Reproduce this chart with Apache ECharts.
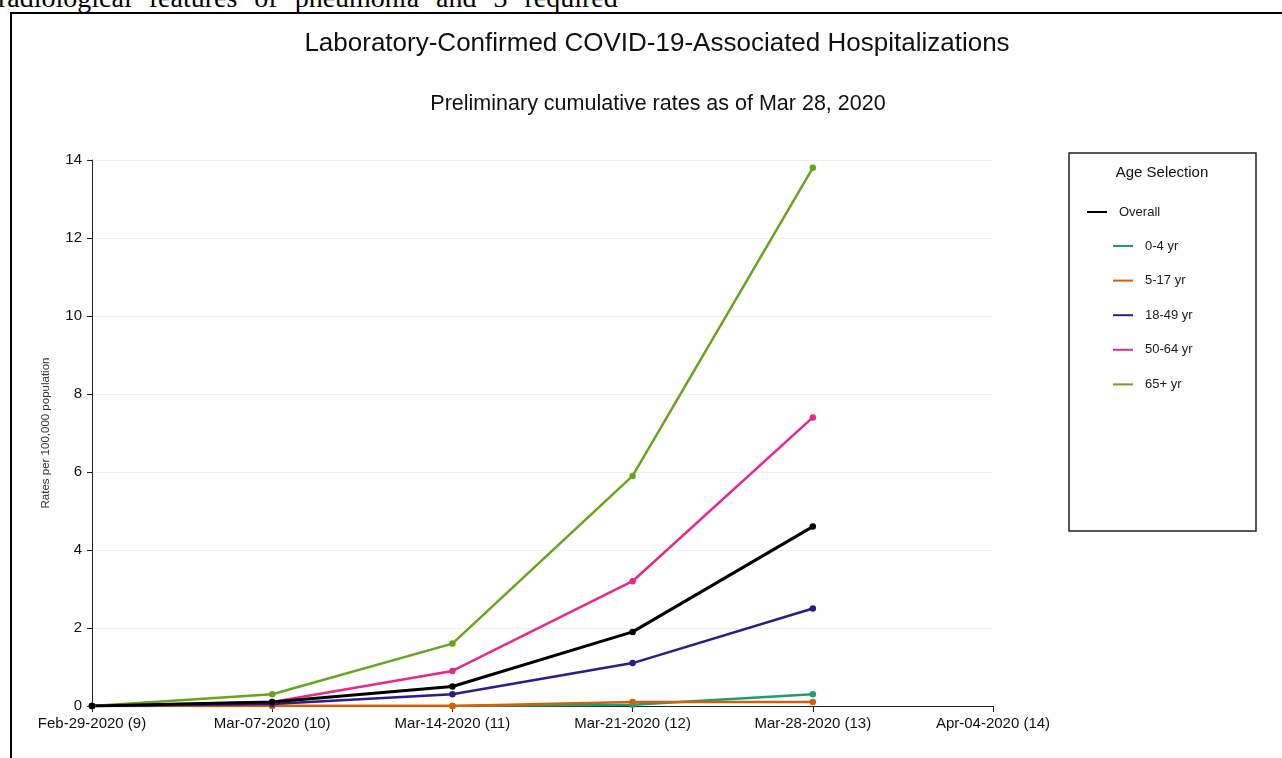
<!DOCTYPE html>
<html>
<head>
<meta charset="utf-8">
<script src="https://cdn.jsdelivr.net/npm/echarts@6/dist/echarts.min.js"></script>
<style>
  html, body { margin: 0; padding: 0; background: #fff; overflow: hidden; }
  #top { position: absolute; left: -2px; top: -16px; font-family: "Liberation Serif", "DejaVu Serif", serif; font-size: 28px; line-height: 28px; word-spacing: 10px; color: #000; white-space: nowrap; }
  #frame { position: absolute; left: 10px; top: 12px; width: 1300px; height: 800px; border: 2px solid #000; box-sizing: border-box; }
  #chart { position: absolute; left: 0; top: 0; width: 1282px; height: 758px; }
</style>
</head>
<body>
<div id="top">radiological features of pneumonia and 3 required</div>
<div id="frame"></div>
<div id="chart"></div>
<script>
const categories = ['Feb-29-2020 (9)', 'Mar-07-2020 (10)', 'Mar-14-2020 (11)', 'Mar-21-2020 (12)', 'Mar-28-2020 (13)', 'Apr-04-2020 (14)'];
const overall  = [0, 0.1, 0.5, 1.9, 4.6];
const age0to4  = [0, 0, 0, 0.03, 0.3];
const age5to17 = [0, 0, 0, 0.1, 0.1];
const age18to49 = [0, 0.05, 0.3, 1.1, 2.5];
const age50to64 = [0, 0.1, 0.9, 3.2, 7.4];
const age65plus = [0, 0.3, 1.6, 5.9, 13.8];
const seriesNames = ['Overall', '0-4 yr', '5-17 yr', '18-49 yr', '50-64 yr', '65+ yr'];
const seriesColors = ['#000000', '#1b9e77', '#d95f02', '#2e1b87', '#e7298a', '#66a61e'];
const seriesData = [overall, age0to4, age5to17, age18to49, age50to64, age65plus];

const chart = echarts.init(document.getElementById('chart'));
const font = 'Liberation Sans, Arial, sans-serif';

// draw order: age groups first, Overall on top
const drawOrder = [1, 2, 3, 4, 5, 0];
const series = drawOrder.map(i => ({
  name: seriesNames[i],
  type: 'line',
  data: seriesData[i],
  symbol: 'circle',
  symbolSize: 6.5,
  showSymbol: true,
  lineStyle: { width: i === 0 ? 3 : 2.5, color: seriesColors[i] },
  itemStyle: { color: seriesColors[i] },
  emphasis: { disabled: true },
  animation: false
}));

const legendText = { fontFamily: font, fontSize: 13, color: '#1a1a1a', lineHeight: 14, padding: [0, 0, 0, 7] };

chart.setOption({
  animation: false,
  title: [
    { text: 'Laboratory-Confirmed COVID-19-Associated Hospitalizations', left: 652, top: 26, textAlign: 'center',
      textStyle: { fontFamily: font, fontSize: 26, fontWeight: 'normal', color: '#111' } },
    { text: 'Preliminary cumulative rates as of Mar 28, 2020', left: 653, top: 88, textAlign: 'center',
      textStyle: { fontFamily: font, fontSize: 21.5, fontWeight: 'normal', color: '#111' } }
  ],
  grid: { left: 92, right: 289, top: 160, bottom: 52, containLabel: false },
  xAxis: {
    type: 'category', data: categories, boundaryGap: false,
    axisLine: { lineStyle: { color: '#222', width: 1 } },
    axisTick: { show: true, length: 6, alignWithLabel: true, lineStyle: { color: '#222' } },
    axisLabel: { fontFamily: font, fontSize: 15, color: '#111', margin: 10, interval: 0 },
    splitLine: { show: false }
  },
  yAxis: {
    type: 'value', min: 0, max: 14, interval: 2,
    name: 'Rates per 100,000 population', nameLocation: 'middle', nameGap: 40, nameRotate: 90,
    nameTextStyle: { fontFamily: font, fontSize: 11.5, color: '#333' },
    axisLine: { show: true, lineStyle: { color: '#222', width: 1 } },
    axisTick: { show: true, length: 5, lineStyle: { color: '#222' } },
    axisLabel: { fontFamily: font, fontSize: 15, color: '#111', margin: 10 },
    splitLine: { show: true, lineStyle: { color: '#f0f0f0', width: 1 } }
  },
  legend: [
    { data: ['Overall'], orient: 'vertical', left: 1082, top: 200, icon: 'rect', itemWidth: 20, itemHeight: 2,
      itemGap: 20, selectedMode: false, textStyle: legendText },
    { data: ['0-4 yr', '5-17 yr', '18-49 yr', '50-64 yr', '65+ yr'], orient: 'vertical', left: 1108, top: 234,
      icon: 'rect', itemWidth: 20, itemHeight: 2, itemGap: 20.6, selectedMode: false, textStyle: legendText }
  ],
  graphic: [
    { type: 'rect', shape: { x: 1069, y: 153, width: 187, height: 378 }, style: { fill: 'none', stroke: '#222', lineWidth: 1.5 }, silent: true },
    { type: 'text', x: 1162, y: 173, style: { text: 'Age Selection', font: '15px ' + font, fill: '#111', textAlign: 'center', textVerticalAlign: 'middle' }, silent: true }
  ],
  series: series
});
</script>
</body>
</html>
